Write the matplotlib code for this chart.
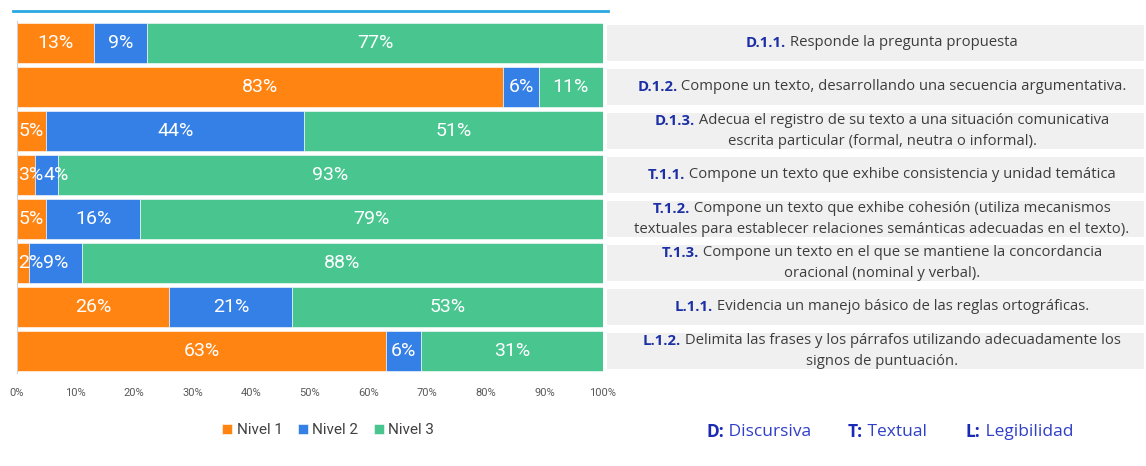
import matplotlib
matplotlib.use('Agg')
import matplotlib.pyplot as plt
from matplotlib.transforms import blended_transform_factory
import numpy as np

plt.rcParams['font.family'] = ['Roboto', 'DejaVu Sans']

# datos
codes = ['D.1.1.', 'D.1.2.', 'D.1.3.', 'T.1.1.', 'T.1.2.', 'T.1.3.', 'L.1.1.', 'L.1.2.']
descs = [
    'Responde la pregunta propuesta',
    'Compone un texto, desarrollando una secuencia argumentativa.',
    'Adecua el registro de su texto a una situación comunicativa\nescrita particular (formal, neutra o informal).',
    'Compone un texto que exhibe consistencia y unidad temática',
    'Compone un texto que exhibe cohesión (utiliza mecanismos\ntextuales para establecer relaciones semánticas adecuadas en el texto).',
    'Compone un texto en el que se mantiene la concordancia\noracional (nominal y verbal).',
    'Evidencia un manejo básico de las reglas ortográficas.',
    'Delimita las frases y los párrafos utilizando adecuadamente los\nsignos de puntuación.',
]
nivel1 = [13, 83, 5, 3, 5, 2, 26, 63]
nivel2 = [9, 6, 44, 4, 16, 9, 21, 6]
nivel3 = [77, 11, 51, 93, 79, 88, 53, 31]
niveles = ['Nivel 1', 'Nivel 2', 'Nivel 3']
colores = ['#FF8412', '#3580E6', '#49C690']
dims = [('D:', ' Discursiva'), ('T:', ' Textual'), ('L:', ' Legibilidad')]

W, H = 1146, 466
fig = plt.figure(figsize=(W / 100, H / 100), dpi=100)
ax = fig.add_axes([17 / W, 93 / H, 586 / W, 352 / H])
renderer = fig.canvas.get_renderer()

datos = np.array([nivel1, nivel2, nivel3], dtype=float)
pct = datos / datos.sum(axis=0) * 100
y = np.arange(len(codes))
left = np.zeros(len(codes))
etiquetas = [[] for _ in codes]
for i in range(3):
    ax.barh(y, pct[i], left=left, height=0.93, color=colores[i], label=niveles[i],
            edgecolor='white', linewidth=0.4)
    for j in range(len(codes)):
        t = ax.text(left[j] + pct[i][j] / 2, y[j], f'{int(datos[i][j])}%', ha='center', va='center',
                    color='white', fontsize=14)
        etiquetas[j].append(t)
    left += pct[i]

ax.set_xlim(0, 100)
ax.set_ylim(len(codes) - 0.5, -0.5)

# evitar que las etiquetas de segmentos estrechos se pisen
ax_px = ax.get_window_extent(renderer)
for fila in etiquetas:
    prev_right = ax_px.x0 + 1
    for t in fila:
        bb = t.get_window_extent(renderer)
        if bb.x0 < prev_right:
            shift = prev_right - bb.x0
            t.set_x(t.get_position()[0] + shift / ax_px.width * 100)
            prev_right = bb.x1 + shift
        else:
            prev_right = bb.x1

ax.set_yticks([])
ax.set_xticks(np.arange(0, 101, 10))
ax.set_xticklabels([f'{v}%' for v in range(0, 101, 10)], fontsize=8, color='#595959')
ax.tick_params(axis='x', length=0, pad=11)
for s in ['top', 'right', 'bottom']:
    ax.spines[s].set_visible(False)
ax.spines['left'].set_color('#d0d0d0')

# bandas grises de la derecha
ax2 = fig.add_axes([607 / W, 93 / H, 537 / W, 352 / H])
ax2.barh(y, [1] * len(codes), height=0.82, color='#f0f0f0')
ax2.set_xlim(0, 1)
ax2.set_ylim(len(codes) - 0.5, -0.5)
ax2.axis('off')

trans = blended_transform_factory(fig.transFigure, ax2.transData)


def rich_line(xc, yv, parts, size, tr, align='center'):
    objs = []
    for s, w, c in parts:
        objs.append(fig.text(0, yv, s, fontsize=size, fontweight=w, color=c, family=['Open Sans', 'DejaVu Sans'],
                             transform=tr, ha='left', va='center'))
    widths = [t.get_window_extent(renderer).width for t in objs]
    x = xc - sum(widths) / 2 if align == 'center' else xc
    for t, w in zip(objs, widths):
        t.set_x(x / W)
        x += w


for j, (c, d) in enumerate(zip(codes, descs)):
    lines = d.split('\n')
    n = len(lines)
    for k, ln in enumerate(lines):
        yv = y[j] + (k - (n - 1) / 2) * 0.46
        if k == 0:
            parts = [(c, 'bold', '#1c2fa5'), (' ' + ln, 'normal', '#3d3d3d')]
        else:
            parts = [(ln, 'normal', '#3d3d3d')]
        rich_line(882, yv, parts, 10.7, trans)

# leyenda
fig.legend(loc='center', bbox_to_anchor=(328 / W, 36 / H), ncol=3, frameon=False, fontsize=11,
           handlelength=0.65, handleheight=0.65, handletextpad=0.3, columnspacing=1.0,
           labelcolor='#404040')

# dimensiones
ftrans = fig.transFigure
for (k, v), xp in zip(dims, [706, 848, 966]):
    rich_line(xp, 1 - 432 / H, [(k, 'bold', '#1a2ab5'), (v, 'normal', '#2f3fc8')], 12.5, ftrans, align='left')

# línea superior
fig.add_artist(plt.Line2D([13 / W, 608 / W], [1 - 11 / H, 1 - 11 / H], color='#2aa8e2', lw=2))

fig.savefig('out.png', dpi=100)
